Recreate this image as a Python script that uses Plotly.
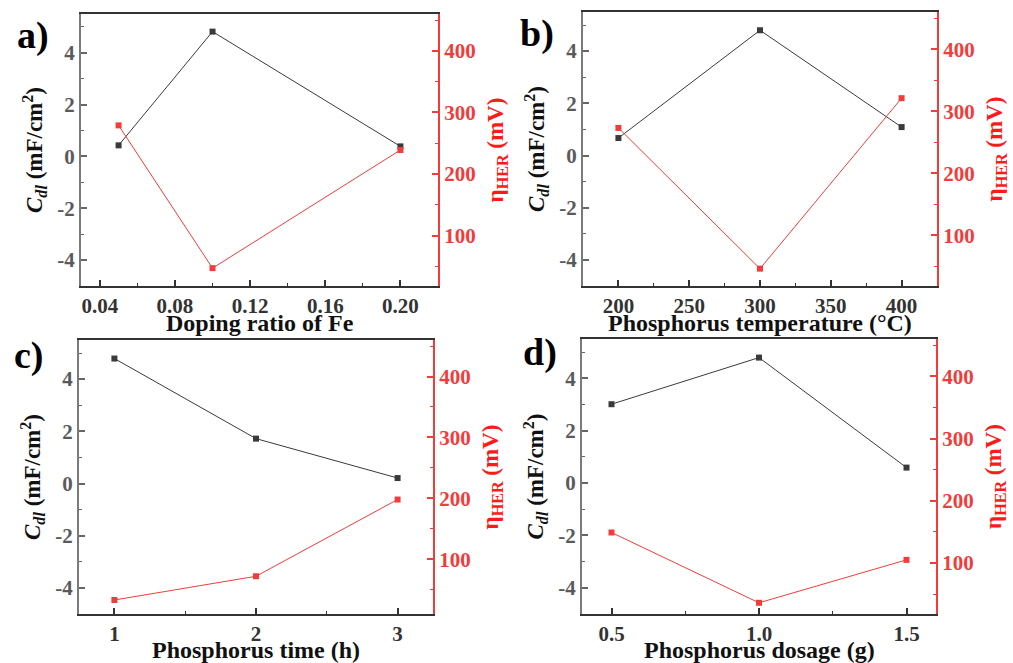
import plotly.graph_objects as go

W, H = 1013, 663

# ---- data ----
fe_ratio = [0.05, 0.10, 0.20]
cdl_a = [0.43, 4.82, 0.39]
eta_a = [279, 47, 239]

temp_c = [200, 300, 400]
cdl_b = [0.67, 4.80, 1.09]
eta_b = [273, 46, 321]

time_h = [1, 2, 3]
cdl_c = [4.79, 1.72, 0.21]
eta_c = [33, 72, 198]

dosage_g = [0.5, 1.0, 1.5]
cdl_d = [3.01, 4.79, 0.59]
eta_d = [149, 36, 105]

cdl_ticks = [-4, -2, 0, 2, 4]
cdl_ticktext = ["-4", "-2", "0", "2", "4"]
eta_ticks = [100, 200, 300, 400]

x_titles = ["Doping ratio of Fe", "Phosphorus temperature (°C)",
            "Phosphorus time (h)", "Phosphorus dosage (g)"]
panel_labels = ["a)", "b)", "c)", "d)"]

FONT = "Liberation Serif"
BLACK = "#3a3a3a"
RED = "#f23c3c"

panels = [
    dict(x=fe_ratio, c=cdl_a, e=eta_a, box=(81, 438, 14, 286), xr=[0.03, 0.22],
         xt=dict(tickvals=[0.04, 0.08, 0.12, 0.16, 0.20], ticktext=["0.04", "0.08", "0.12", "0.16", "0.20"]),
         xminor=0.02, er=[18, 460], lab=(33, 35), ty=323),
    dict(x=temp_c, c=cdl_b, e=eta_b, box=(583, 937, 12, 286), xr=[175, 425],
         xt=dict(tickvals=[200, 250, 300, 350, 400], ticktext=["200", "250", "300", "350", "400"]),
         xminor=25, er=[18, 460], lab=(537, 33), ty=323),
    dict(x=time_h, c=cdl_c, e=eta_c, box=(79, 433, 340, 614), xr=[0.75, 3.25],
         xt=dict(tickvals=[1, 2, 3], ticktext=["1", "2", "3"]), xminor=0.5, er=[10, 460], lab=(29, 355), ty=650),
    dict(x=dosage_g, c=cdl_d, e=eta_d, box=(582, 936, 339, 614), xr=[0.4, 1.6],
         xt=dict(tickvals=[0.5, 1.0, 1.5], ticktext=["0.5", "1.0", "1.5"]), xminor=0.25, er=[18, 460], lab=(540, 352), ty=650),
]

fig = go.Figure()
layout = {}
annotations = []

for i, p in enumerate(panels):
    xn = "x" if i == 0 else f"x{i+1}"
    yl = f"y{2*i+1}" if i > 0 else "y"
    yr = f"y{2*i+2}"
    xkey = "xaxis" if i == 0 else f"xaxis{i+1}"
    ylkey = "yaxis" if i == 0 else f"yaxis{2*i+1}"
    yrkey = f"yaxis{2*i+2}"
    x0, x1, y0, y1 = p["box"]
    xdom = [x0 / W, x1 / W]
    ydom = [1 - y1 / H, 1 - y0 / H]

    fig.add_trace(go.Scatter(x=p["x"], y=p["c"], xaxis=xn, yaxis=yl, mode="lines+markers",
                             line=dict(color=BLACK, width=1),
                             marker=dict(symbol="square", size=6, color=BLACK),
                             showlegend=False))
    fig.add_trace(go.Scatter(x=p["x"], y=p["e"], xaxis=xn, yaxis=yr, mode="lines+markers",
                             line=dict(color=RED, width=1),
                             marker=dict(symbol="square", size=6, color=RED),
                             showlegend=False))

    xtt = ["<b>" + t + "</b>" for t in p["xt"]["ticktext"]]
    layout[xkey] = dict(
        domain=xdom, anchor=yl, range=p["xr"], tickvals=p["xt"]["tickvals"], ticktext=xtt,
        showline=True, linecolor="#333333", linewidth=2, mirror=True,
        ticks="inside", ticklen=6, tickwidth=1.5, tickcolor="#333333",
        minor=dict(dtick=p["xminor"], tick0=0, ticks="inside", ticklen=3, tickcolor="#333333", tickwidth=1),
        showgrid=False, zeroline=False,
        tickfont=dict(family=FONT, size=21, color="#333333"),
    )
    layout[ylkey] = dict(
        domain=ydom, anchor=xn, range=[-5, 5.5], tickvals=cdl_ticks,
        ticktext=["<b>" + t + "</b>" for t in cdl_ticktext],
        showline=True, linecolor="#7a7a7a", linewidth=2,
        ticks="inside", ticklen=6, tickwidth=1.5, tickcolor="#666666",
        minor=dict(dtick=1, tick0=1, ticks="inside", ticklen=3, tickcolor="#666666", tickwidth=1),
        showgrid=False, zeroline=False,
        tickfont=dict(family=FONT, size=21, color="#5a5a5a"),
        title=dict(text="<b><i>C</i><sub><i>dl</i></sub> (mF/cm<sup>2</sup>)</b>", standoff=8,
                   font=dict(family=FONT, size=23, color="#111111")),
    )
    layout[yrkey] = dict(
        overlaying=yl, anchor=xn, side="right", range=p["er"],
        tickvals=eta_ticks, ticktext=["<b>" + str(t) + "</b>" for t in eta_ticks],
        showline=True, linecolor=RED, linewidth=2,
        ticks="inside", ticklen=6, tickwidth=1.5, tickcolor=RED,
        minor=dict(dtick=50, tick0=0, ticks="inside", ticklen=3, tickcolor=RED, tickwidth=1),
        showgrid=False, zeroline=False,
        tickfont=dict(family=FONT, size=21, color=RED),
        title=dict(text="<b>η<sub>HER</sub> (mV)</b>", standoff=12,
                   font=dict(family=FONT, size=23, color="#ff1a1a")),
    )
    lx, ly = p["lab"]
    annotations.append(dict(text="<b>" + panel_labels[i] + "</b>", x=lx / W, y=1 - ly / H,
                            xref="paper", yref="paper",
                            showarrow=False, xanchor="center", yanchor="middle",
                            font=dict(family=FONT, size=38, color="#000000")))
    annotations.append(dict(text="<b>" + x_titles[i] + "</b>", x=(x0 + x1) / 2 / W, y=1 - p["ty"] / H,
                            xref="paper", yref="paper",
                            showarrow=False, xanchor="center", yanchor="middle",
                            font=dict(family=FONT, size=24, color="#111111")))

fig.update_layout(**layout)
fig.update_layout(
    width=W, height=H, margin=dict(l=0, r=0, t=0, b=0),
    font=dict(family=FONT),
    paper_bgcolor="white", plot_bgcolor="white",
    annotations=annotations, showlegend=False,
)

fig.write_html("out.html")
